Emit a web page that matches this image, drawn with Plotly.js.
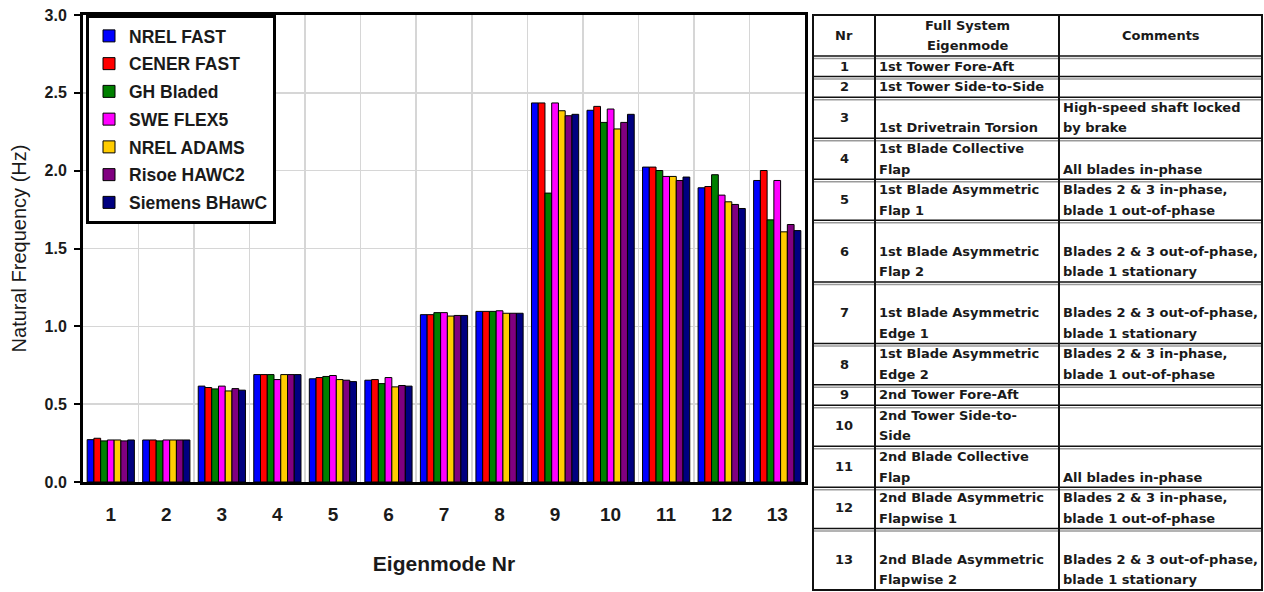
<!DOCTYPE html>
<html>
<head>
<meta charset="utf-8">
<script src="https://cdn.plot.ly/plotly-3.0.1.min.js"></script>
<style>
html,body{margin:0;padding:0;background:#fff;}
#chart{width:1264px;height:592px;}
</style>
</head>
<body>
<div id="chart"></div>
<script>
// ---------- data ----------
var modes = ['1','2','3','4','5','6','7','8','9','10','11','12','13'];
var seriesNames = ['NREL FAST','CENER FAST','GH Bladed','SWE FLEX5','NREL ADAMS','Risoe HAWC2','Siemens BHawC'];
var nrelFast     = [0.272,0.270,0.616,0.690,0.663,0.654,1.075,1.096,2.435,2.388,2.023,1.890,1.937];
var cenerFast    = [0.281,0.270,0.607,0.690,0.671,0.658,1.075,1.096,2.435,2.413,2.023,1.898,2.001];
var ghBladed     = [0.264,0.264,0.598,0.690,0.678,0.632,1.088,1.096,1.856,2.310,2.001,1.974,1.684];
var sweFlex5     = [0.270,0.270,0.616,0.658,0.684,0.671,1.088,1.100,2.435,2.396,1.963,1.843,1.937];
var nrelAdams    = [0.270,0.270,0.585,0.690,0.658,0.611,1.066,1.084,2.385,2.268,1.963,1.800,1.607];
var risoeHawc2   = [0.264,0.270,0.600,0.690,0.654,0.620,1.070,1.084,2.353,2.310,1.937,1.783,1.654];
var siemensBhawc = [0.270,0.270,0.590,0.690,0.645,0.616,1.070,1.084,2.362,2.362,1.959,1.757,1.615];
var seriesColors = ['#0000FF','#FF0000','#008000','#FF00FF','#FFCC00','#800080','#000080'];

var tableHeaders = ['Nr','Full System<br>Eigenmode','Comments'];
var eigenmodes = [
  '1st Tower Fore-Aft',
  '1st Tower Side-to-Side',
  '1st Drivetrain Torsion',
  '1st Blade Collective<br>Flap',
  '1st Blade Asymmetric<br>Flap 1',
  '1st Blade Asymmetric<br>Flap 2',
  '1st Blade Asymmetric<br>Edge 1',
  '1st Blade Asymmetric<br>Edge 2',
  '2nd Tower Fore-Aft',
  '2nd Tower Side-to-<br>Side',
  '2nd Blade Collective<br>Flap',
  '2nd Blade Asymmetric<br>Flapwise 1',
  '2nd Blade Asymmetric<br>Flapwise 2'
];
var comments = [
  '',
  '',
  'High-speed shaft locked<br>by brake',
  'All blades in-phase',
  'Blades 2 & 3 in-phase,<br>blade 1 out-of-phase',
  'Blades 2 & 3 out-of-phase,<br>blade 1 stationary',
  'Blades 2 & 3 out-of-phase,<br>blade 1 stationary',
  'Blades 2 & 3 in-phase,<br>blade 1 out-of-phase',
  '',
  '',
  'All blades in-phase',
  'Blades 2 & 3 in-phase,<br>blade 1 out-of-phase',
  'Blades 2 & 3 out-of-phase,<br>blade 1 stationary'
];

// ---------- layout constants (table geometry, in line units) ----------
var colWidths = [62, 184, 203];
var headerLines = 2;
var rowLines = [1,1,2,2,2,3,3,2,1,2,2,2,3];

var allSeries = [nrelFast,cenerFast,ghBladed,sweFlex5,nrelAdams,risoeHawc2,siemensBhawc];
var traces = allSeries.map(function(vals,i){
  return {
    type:'bar', name:seriesNames[i], x:modes, y:vals,
    marker:{color:seriesColors[i], line:{color:'#000', width:1}},
    legendgroup:'g'+i, xaxis:'x', yaxis:'y', hoverinfo:'x+y+name'
  };
});

// table geometry
var W = colWidths.reduce(function(a,b){return a+b;},0);
var colX = [0]; colWidths.forEach(function(w){colX.push(colX[colX.length-1]+w);});
var rowTop = [headerLines];
rowLines.forEach(function(n){rowTop.push(rowTop[rowTop.length-1]+n);});
var totalLines = rowTop[rowTop.length-1];

var shapes = [];
var annotations = [];
var tFont = {family:'DejaVu Sans', size:13, color:'#1a1a1a', weight:'bold'};

// row separators (black line + gray line underneath)
var seps = [headerLines].concat(rowTop.slice(1, rowTop.length-1));
seps.forEach(function(yv){
  shapes.push({type:'line', xref:'x2', yref:'y2', x0:0, x1:W, y0:yv, y1:yv, line:{color:'#111', width:1.5}});
  shapes.push({type:'line', xref:'x2', yref:'y2', ysizemode:'pixel', yanchor:yv, x0:0, x1:W, y0:-2.5, y1:-2.5, line:{color:'#9a9a9a', width:1.5}});
});
// column lines
[colX[1], colX[2]].forEach(function(xv){
  shapes.push({type:'line', xref:'x2', yref:'y2', x0:xv, x1:xv, y0:0, y1:totalLines, line:{color:'#111', width:2}});
});
// outer border
shapes.push({type:'rect', xref:'x2', yref:'y2', x0:0, x1:W, y0:0, y1:totalLines, line:{color:'#111', width:2}});

function addCellLines(text, xLeft, xRight, top, units, align, vmode){
  var lines = text === '' ? [] : text.split('<br>');
  var n = lines.length;
  lines.forEach(function(ln,k){
    var slot;
    if(vmode === 'bottom') slot = top + units - n + k + 0.5;
    else slot = top + (units - n)/2 + k + 0.5;
    annotations.push({
      xref:'x2', yref:'y2',
      x: align === 'center' ? (xLeft+xRight)/2 : xLeft,
      xanchor: align === 'center' ? 'center' : 'left',
      xshift: align === 'center' ? 0 : 2,
      y: slot, yanchor:'middle',
      text: ln, showarrow:false, font:tFont
    });
  });
}
// header
tableHeaders.forEach(function(h,c){
  addCellLines(h, colX[c], colX[c+1], 0, headerLines, 'center', 'middle');
});
// body
modes.forEach(function(m,r){
  addCellLines(m, colX[0], colX[1], rowTop[r], rowLines[r], 'center', 'middle');
  addCellLines(eigenmodes[r], colX[1], colX[2], rowTop[r], rowLines[r], 'left', 'bottom');
  addCellLines(comments[r], colX[2], colX[3], rowTop[r], rowLines[r], 'left', 'bottom');
});

// ---------- pixel-to-domain helpers ----------
var FW = 1264, FH = 592, ML = 83, MR = 0, MT = 13, MB = 0;
var PW = FW-ML-MR, PH = FH-MT-MB;
function dx(px){return (px-ML)/PW;}
function dy(py){return (FH-MB-py)/PH;}
var unitPx = (590-15)/totalLines;

var layout = {
  width:FW, height:FH,
  margin:{l:ML, r:MR, t:MT, b:MB, pad:0},
  paper_bgcolor:'#fff', plot_bgcolor:'rgba(0,0,0,0)',
  font:{family:'Liberation Sans, Arial, sans-serif', color:'#1a1a1a'},
  barmode:'group', bargap:0.15, bargroupgap:0,
  showlegend:true,
  legend:{
    x:dx(86), y:dy(15), xanchor:'left', yanchor:'top',
    bgcolor:'#fff', bordercolor:'#000', borderwidth:3,
    font:{size:17.5, weight:'bold', color:'#1a1a1a'},
    tracegroupgap:2, traceorder:'grouped'
  },
  xaxis:{
    domain:[0, dx(805)], anchor:'y', type:'category',
    tickson:'boundaries', ticks:'', showgrid:true, gridcolor:'#d6d6d6', gridwidth:1.5,
    showline:true, linecolor:'#000', linewidth:3, mirror:true,
    tickfont:{size:19, weight:'bold', color:'#1a1a1a'},
    ticklabelstandoff:13,
    title:{text:'Eigenmode Nr', font:{size:21, weight:'bold', color:'#1a1a1a'}, standoff:33},
    fixedrange:true
  },
  yaxis:{
    domain:[dy(482), dy(15)], anchor:'x', range:[0,3], dtick:0.5, tickformat:'.1f',
    ticks:'outside', ticklen:6, tickwidth:2, tickcolor:'#000',
    showgrid:true, gridcolor:'#d6d6d6', gridwidth:1.5, zeroline:false,
    showline:true, linecolor:'#000', linewidth:3, mirror:true,
    tickfont:{size:16, weight:'bold', color:'#1a1a1a'},
    ticklabelstandoff:4,
    title:{text:'Natural Frequency (Hz)', font:{size:20, color:'#1a1a1a'}, standoff:13},
    fixedrange:true
  },
  xaxis2:{
    domain:[dx(811), 1], anchor:'y2', range:[-2, W+2],
    visible:false, showgrid:false, zeroline:false, fixedrange:true
  },
  yaxis2:{
    domain:[0,1], anchor:'x2',
    range:[totalLines + (FH-MB-590)/unitPx, -(15-MT)/unitPx],
    visible:false, showgrid:false, zeroline:false, fixedrange:true
  },
  shapes:shapes,
  annotations:annotations
};

Plotly.newPlot('chart', traces, layout, {displayModeBar:false, staticPlot:true});
</script>
</body>
</html>
